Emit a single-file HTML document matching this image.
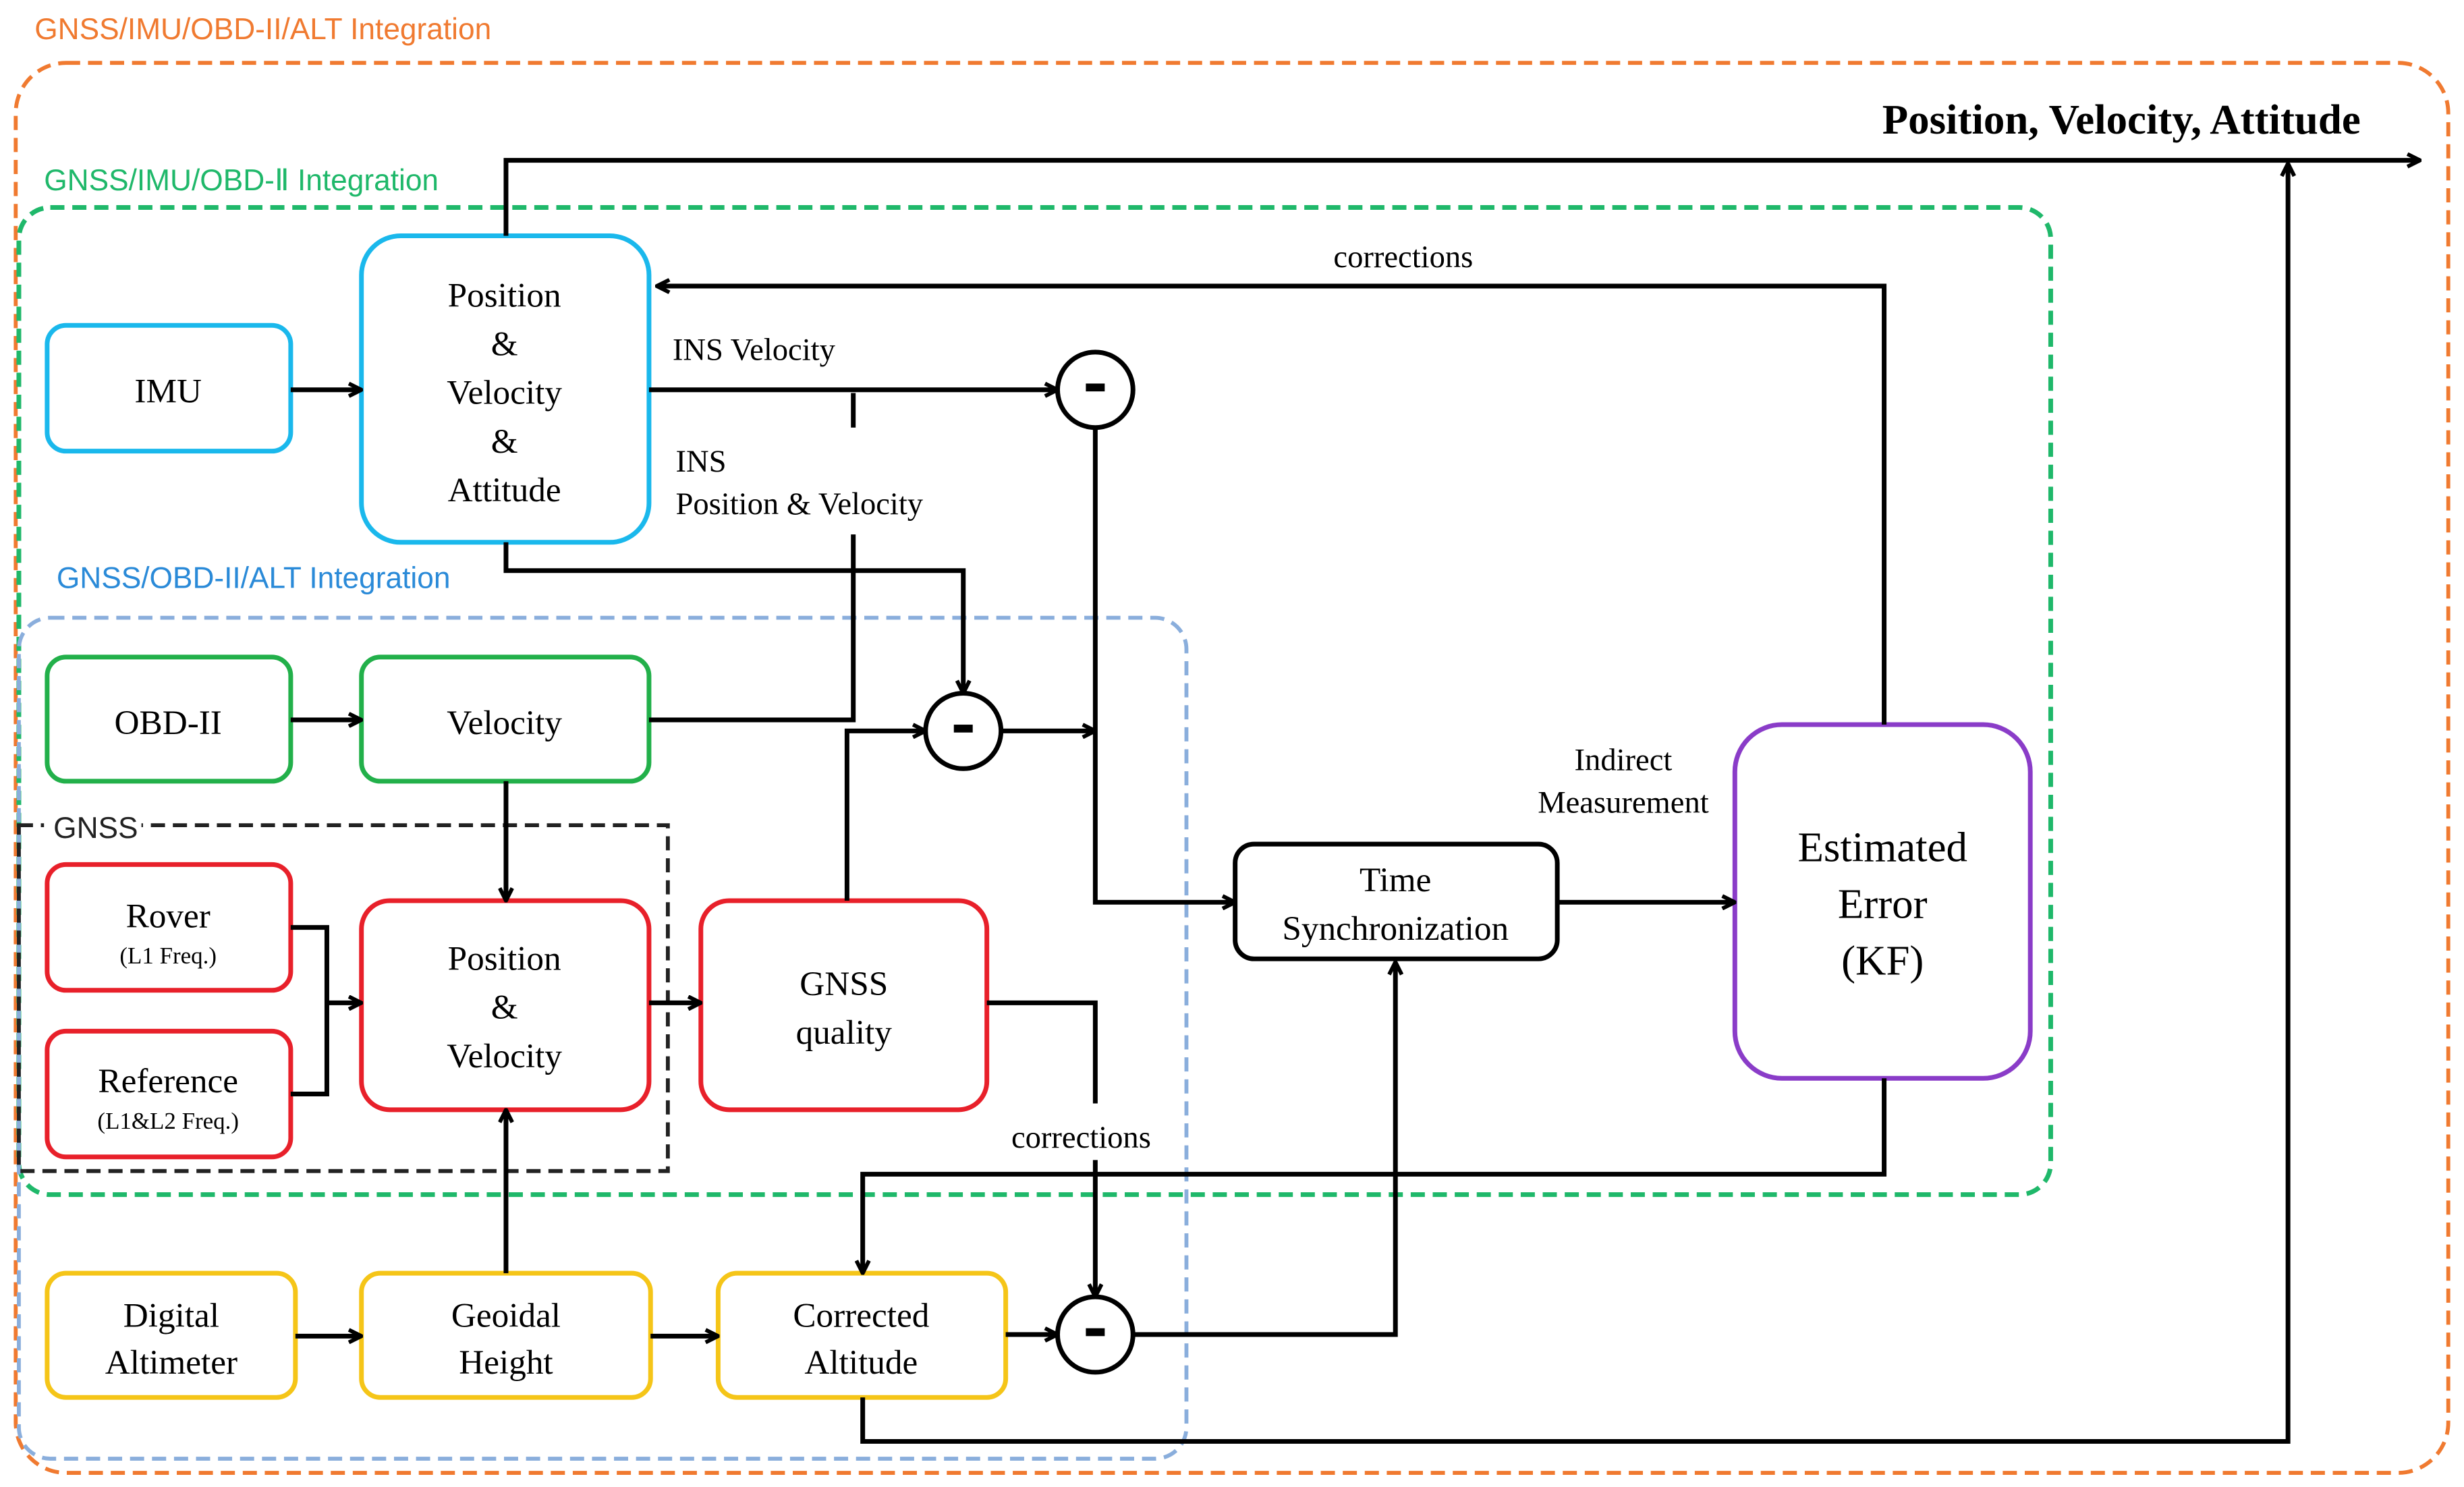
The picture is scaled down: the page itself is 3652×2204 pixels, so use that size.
<!DOCTYPE html>
<html><head><meta charset="utf-8"><style>
html,body{margin:0;padding:0;background:#fff;}
svg{display:block;}
text{font-family:"Liberation Serif",serif;font-size:22px;fill:#000;}
.s{font-family:"Liberation Sans",sans-serif;font-size:19px;}
</style></head><body>
<svg width="3652" height="2204" viewBox="0 0 1568 946" preserveAspectRatio="none" xmlns="http://www.w3.org/2000/svg">
<defs><marker id="a" markerWidth="10" markerHeight="10" refX="9" refY="5" orient="auto" markerUnits="userSpaceOnUse"><path d="M1,1 L9,5 L1,9" fill="none" stroke="#000" stroke-width="2.5"/></marker></defs>
<rect x="10" y="40" width="1548" height="897" rx="32" fill="none" stroke="#f07a30" stroke-width="2.5" stroke-dasharray="9,5"/>
<text x="22" y="25" class="s" style="fill:#f07a30">GNSS/IMU/OBD-II/ALT Integration</text>
<rect x="12" y="132" width="1293" height="628" rx="20" fill="none" stroke="#1fb86a" stroke-width="3" stroke-dasharray="9,5"/>
<text x="28" y="121" class="s" style="fill:#1fb86a">GNSS/IMU/OBD-Ⅱ Integration</text>
<rect x="12" y="393" width="743" height="535" rx="20" fill="none" stroke="#8aaedc" stroke-width="2.5" stroke-dasharray="9,5"/>
<text x="36" y="374" class="s" style="fill:#2a8ad8">GNSS/OBD-II/ALT Integration</text>
<rect x="12" y="525" width="413" height="220" fill="none" stroke="#222" stroke-width="2.5" stroke-dasharray="9,5"/>
<rect x="28" y="514" width="62" height="24" fill="#fff"/>
<text x="34" y="533" class="s" style="fill:#222">GNSS</text>
<g fill="#fff" stroke-width="3">
<rect x="30" y="207" width="155" height="80" rx="12" stroke="#1ab8ec"/>
<rect x="230" y="150" width="183" height="195" rx="25" stroke="#1ab8ec"/>
<rect x="30" y="418" width="155" height="79" rx="12" stroke="#22b04a"/>
<rect x="230" y="418" width="183" height="79" rx="12" stroke="#22b04a"/>
<rect x="30" y="550" width="155" height="80" rx="12" stroke="#e8202a"/>
<rect x="30" y="656" width="155" height="80" rx="12" stroke="#e8202a"/>
<rect x="230" y="573" width="183" height="133" rx="18" stroke="#e8202a"/>
<rect x="446" y="573" width="182" height="133" rx="18" stroke="#e8202a"/>
<rect x="30" y="810" width="158" height="79" rx="12" stroke="#f5c518"/>
<rect x="230" y="810" width="184" height="79" rx="12" stroke="#f5c518"/>
<rect x="457" y="810" width="183" height="79" rx="12" stroke="#f5c518"/>
<rect x="786" y="537" width="205" height="73" rx="12" stroke="#000"/>
<rect x="1104" y="461" width="188" height="225" rx="30" stroke="#8a3cc8"/>
<circle cx="697" cy="248" r="24" stroke="#000"/>
<circle cx="613" cy="465" r="24" stroke="#000"/>
<circle cx="697" cy="849" r="24" stroke="#000"/>
</g>
<g fill="#000">
<rect x="691" y="244" width="12" height="5"/><rect x="607" y="461" width="12" height="5"/><rect x="691" y="845" width="12" height="5"/>
</g>
<g fill="none" stroke="#000" stroke-width="3">
<path d="M322,150 V102 H1540" marker-end="url(#a)"/>
<path d="M549,889 V917 H1456 V104" marker-end="url(#a)"/>
<path d="M1199,461 V182 H418" marker-end="url(#a)"/>
<path d="M413,248 H673" marker-end="url(#a)"/>
<path d="M697,272 V574 H786" marker-end="url(#a)"/>
<path d="M543,250 V272"/>
<path d="M413,458 H543 V340"/>
<path d="M322,345 V363 H613 V441" marker-end="url(#a)"/>
<path d="M539,573 V465 H589" marker-end="url(#a)"/>
<path d="M637,465 H697" marker-end="url(#a)"/>
<path d="M185,458 H230" marker-end="url(#a)"/>
<path d="M185,248 H230" marker-end="url(#a)"/>
<path d="M322,497 V573" marker-end="url(#a)"/>
<path d="M185,590 H208 V696 H185"/>
<path d="M208,638 H230" marker-end="url(#a)"/>
<path d="M413,638 H446" marker-end="url(#a)"/>
<path d="M628,638 H697 V702"/>
<path d="M697,738 V825" marker-end="url(#a)"/>
<path d="M1199,686 V747 H549 V810" marker-end="url(#a)"/>
<path d="M322,810 V706" marker-end="url(#a)"/>
<path d="M188,850 H230" marker-end="url(#a)"/>
<path d="M414,850 H457" marker-end="url(#a)"/>
<path d="M640,849 H673" marker-end="url(#a)"/>
<path d="M721,849 H888 V612" marker-end="url(#a)"/>
<path d="M991,574 H1104" marker-end="url(#a)"/>
</g>
<g text-anchor="middle">
<text x="107" y="256">IMU</text>
<text x="321" y="195">Position</text><text x="321" y="226">&amp;</text><text x="321" y="257">Velocity</text><text x="321" y="288">&amp;</text><text x="321" y="319">Attitude</text>
<text x="107" y="467">OBD-II</text>
<text x="321" y="467">Velocity</text>
<text x="107" y="590">Rover</text><text x="107" y="613" style="font-size:15px">(L1 Freq.)</text>
<text x="107" y="695">Reference</text><text x="107" y="718" style="font-size:15px">(L1&amp;L2 Freq.)</text>
<text x="321" y="617">Position</text><text x="321" y="648">&amp;</text><text x="321" y="679">Velocity</text>
<text x="537" y="633">GNSS</text><text x="537" y="664">quality</text>
<text x="109" y="844">Digital</text><text x="109" y="874">Altimeter</text>
<text x="322" y="844">Geoidal</text><text x="322" y="874">Height</text>
<text x="548" y="844">Corrected</text><text x="548" y="874">Altitude</text>
<text x="888" y="567">Time</text><text x="888" y="598">Synchronization</text>
<text x="1198" y="548" style="font-size:27px">Estimated</text><text x="1198" y="584" style="font-size:27px">Error</text><text x="1198" y="620" style="font-size:27px">(KF)</text>
<text x="893" y="170" style="font-size:20px">corrections</text>
<text x="688" y="730" style="font-size:20px">corrections</text>
<text x="1033" y="490" style="font-size:20px">Indirect</text><text x="1033" y="517" style="font-size:20px">Measurement</text>
<text x="1350" y="85" font-weight="bold" style="font-size:27px">Position, Velocity, Attitude</text>
</g>
<text x="428" y="229" style="font-size:20px">INS Velocity</text>
<text x="430" y="300" style="font-size:20px">INS</text>
<text x="430" y="327" style="font-size:20px">Position &amp; Velocity</text>
</svg>
</body></html>
